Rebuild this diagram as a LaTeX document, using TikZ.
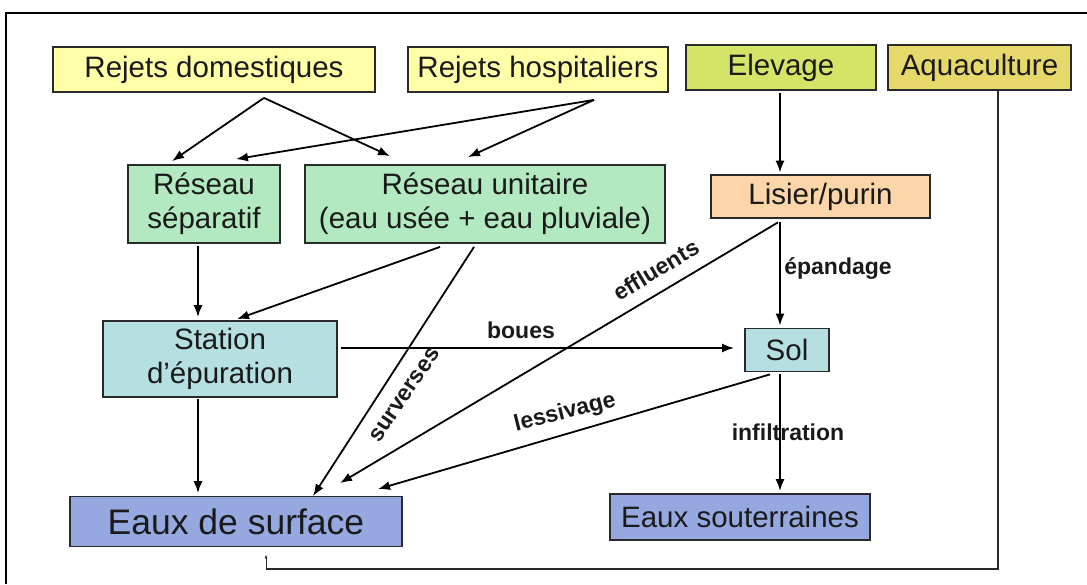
\documentclass[tikz,border=0pt]{standalone}
\usepackage{fontspec}
\setmainfont{Liberation Sans}
\usetikzlibrary{arrows.meta}
\definecolor{cYel}{HTML}{FFFFA8}
\definecolor{cEle}{HTML}{D4E466}
\definecolor{cAqu}{HTML}{E6D86A}
\definecolor{cGrn}{HTML}{B2E9C0}
\definecolor{cLis}{HTML}{FCD5A8}
\definecolor{cCya}{HTML}{B6DFE2}
\definecolor{cBlu}{HTML}{96A8E0}
\definecolor{cBdr}{HTML}{2A2A2A}
\definecolor{cTxt}{HTML}{1A1A1A}
\tikzset{
 box/.style={draw=cBdr, line width=1.8pt, inner sep=0pt, align=center, text=cTxt,
   font=\fontsize{29.5}{34}\selectfont},
 arr/.style={-{Latex[length=12pt,width=9pt]}, line width=1.8pt, draw=black},
 lbl/.style={font=\fontsize{23}{26}\selectfont\bfseries, inner sep=0pt, text=cTxt},
}
\begin{document}
\begin{tikzpicture}[x=1pt,y=-1pt]
\useasboundingbox (0,0) rectangle (1087,584);
\draw[line width=2pt] (6,584) -- (6,13) -- (1087,13);

% nodes
\node[box, fill=cYel, minimum width=322pt, minimum height=45pt] (rd) at (214,69.5) {Rejets domestiques};
\node[box, fill=cYel, minimum width=260pt, minimum height=45pt] (rh) at (538,69.5) {Rejets hospitaliers};
\node[box, fill=cEle, minimum width=190pt, minimum height=45pt] (el) at (781,67.5) {Elevage};
\node[box, fill=cAqu, minimum width=183pt, minimum height=45pt] (aq) at (979.5,67.5) {Aquaculture};
\node[box, fill=cGrn, minimum width=152pt, minimum height=78pt] (rs) at (204,204) {Réseau\\séparatif};
\node[box, fill=cGrn, minimum width=360pt, minimum height=78pt] (ru) at (485,204) {Réseau unitaire\\(eau usée + eau pluviale)};
\node[box, fill=cLis, minimum width=219pt, minimum height=43pt] (li) at (820.5,196.5) {Lisier/purin};
\node[box, fill=cCya, minimum width=234pt, minimum height=76pt] (st) at (220,359) {Station\\d’épuration};
\node[box, fill=cCya, minimum width=84pt, minimum height=43pt] (sol) at (787,350) {Sol};
\node[box, fill=cBlu, minimum width=332pt, minimum height=50pt, font=\fontsize{35.5}{40}\selectfont] (es) at (236,521.5) {Eaux de surface};
\node[box, fill=cBlu, minimum width=260pt, minimum height=46pt] (eso) at (740,517) {Eaux souterraines};

% connectors
\draw[arr] ([xshift=50pt,yshift=-5pt]rd.south) -- ([xshift=-32pt,yshift=3pt]rs.north);
\draw[arr] ([xshift=50pt,yshift=-5pt]rd.south) -- ([xshift=-95pt,yshift=8pt]ru.north);
\draw[arr] ([xshift=56pt,yshift=-7pt]rh.south) -- ([xshift=32pt,yshift=5pt]rs.north);
\draw[arr] ([xshift=56pt,yshift=-7pt]rh.south) -- ([xshift=-17pt,yshift=7pt]ru.north);
\draw[arr] ([xshift=-1pt,yshift=-2pt]el.south) -- ([xshift=-40.5pt,yshift=1.5pt]li.north);
\draw[arr] ([xshift=-40.5pt,yshift=-3.5pt]li.south) -- ([xshift=-7pt,yshift=2pt]sol.north);
\draw[arr] ([xshift=-42.5pt,yshift=-3.5pt]li.south) -- ([xshift=104pt,yshift=12.5pt]es.north);
\draw[arr] ([xshift=-6pt,yshift=-2pt]rs.south) -- ([xshift=-22pt,yshift=3pt]st.north);
\draw[arr] ([xshift=-45pt,yshift=-3pt]ru.south) -- ([xshift=17pt,yshift=1pt]st.north);
\draw[arr] ([xshift=-11pt,yshift=-3pt]ru.south) -- ([xshift=77pt,yshift=-0.5pt]es.north);
\draw[arr] ([xshift=3pt,yshift=11pt]st.east) -- ([xshift=-10pt,yshift=2pt]sol.west);
\draw[arr] ([xshift=-17pt,yshift=-2pt]sol.south) -- ([xshift=142pt,yshift=6.5pt]es.north);
\draw[arr] ([xshift=-7pt,yshift=-2pt]sol.south) -- ([xshift=40pt,yshift=2pt]eso.north);
\draw[arr] ([xshift=-22pt,yshift=-1pt]st.south) -- ([xshift=-38pt,yshift=2.5pt]es.north);
\draw[line width=1.6pt, draw=cBdr] ([xshift=18.5pt]aq.south) -- ++(0,478)
   -| ([xshift=30pt,yshift=-21.5pt]es.south);
\draw[line width=0.8pt, draw=cBdr, -{Latex[length=4pt,width=3pt]}] ([xshift=30pt,yshift=-21.5pt]es.south) -- ([xshift=30pt,yshift=-7pt]es.south);

% labels
\node[lbl] (lboues) at (521,330) {boues};
\node[lbl] (lepan) at (838,268) {épandage};
\node[lbl] (linf) at (788,432) {infiltration};
\node[lbl, rotate=31] (leff) at (656,270) {effluents};
\node[lbl, rotate=56] (lsur) at (405,395) {surverses};
\node[lbl, rotate=14] (lles) at (565,413) {lessivage};
\end{tikzpicture}
\end{document}
